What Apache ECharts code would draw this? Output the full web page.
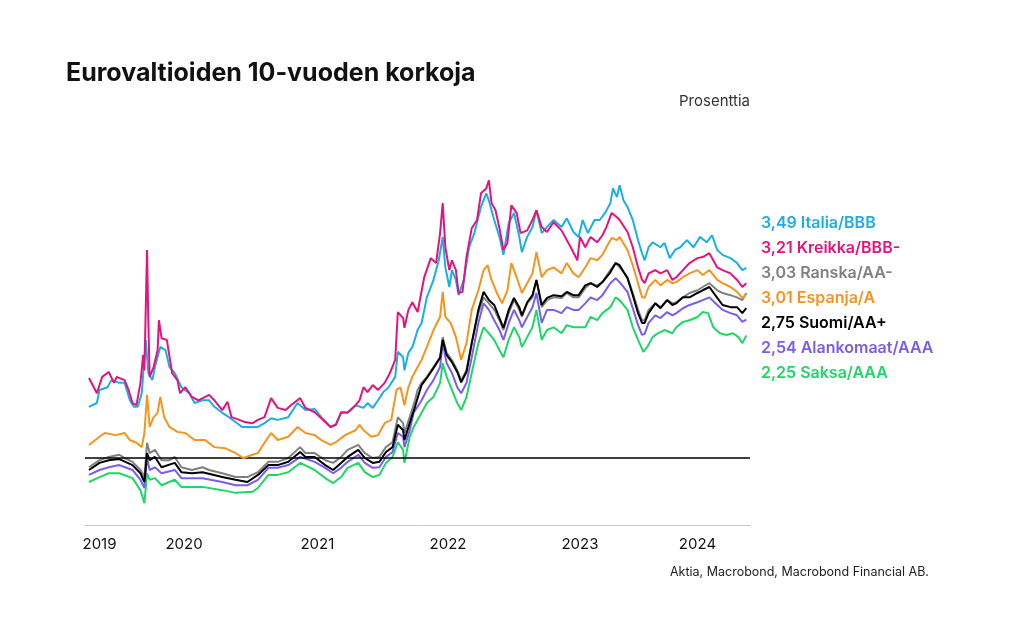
<!DOCTYPE html>
<html><head><meta charset="utf-8">
<script src="https://cdn.jsdelivr.net/npm/echarts@6/dist/echarts.min.js"></script>
<style>html,body{margin:0;padding:0;background:#fff}#c{width:1010px;height:623px}</style>
</head><body><div id="c"></div>
<script>
// Tick labels (years) and where they are centred (decimal years)
const yearLabels = ['2019', '2020', '2021', '2022', '2023', '2024'];
const yearLabelPositions = [2019.86, 2020.5, 2021.51, 2022.5, 2023.5, 2024.39];

// Series names (legend order)
const seriesNames = ['Italia/BBB', 'Kreikka/BBB-', 'Ranska/AA-', 'Espanja/A', 'Suomi/AA+', 'Alankomaat/AAA', 'Saksa/AAA'];

// 10-year yields, % — [decimal year, value]
const italia = [[2019.78,0.94],[2019.84,1.01],[2019.86,1.25],[2019.92,1.30],[2019.95,1.43],[2020.01,1.38],[2020.05,1.38],[2020.09,1.06],[2020.12,0.94],[2020.15,0.94],[2020.18,1.19],[2020.21,2.17],[2020.23,1.56],[2020.26,1.43],[2020.28,1.67],[2020.32,2.04],[2020.36,1.98],[2020.39,1.67],[2020.43,1.56],[2020.48,1.30],[2020.54,1.19],[2020.58,1.01],[2020.64,1.06],[2020.69,1.06],[2020.73,0.94],[2020.79,0.83],[2020.84,0.75],[2020.89,0.66],[2020.94,0.57],[2021.02,0.57],[2021.06,0.57],[2021.11,0.64],[2021.16,0.73],[2021.21,0.70],[2021.29,0.75],[2021.36,1.01],[2021.42,0.88],[2021.49,0.90],[2021.54,0.75],[2021.61,0.57],[2021.65,0.61],[2021.69,0.83],[2021.74,0.84],[2021.80,0.97],[2021.86,0.92],[2021.89,1.01],[2021.93,0.92],[2021.97,1.06],[2022.01,1.21],[2022.05,1.30],[2022.10,1.49],[2022.12,1.95],[2022.16,1.85],[2022.17,1.61],[2022.20,1.93],[2022.23,2.04],[2022.24,2.11],[2022.27,2.35],[2022.30,2.48],[2022.34,2.95],[2022.39,3.27],[2022.43,3.63],[2022.46,4.06],[2022.48,3.50],[2022.51,3.14],[2022.53,3.45],[2022.56,3.27],[2022.58,2.99],[2022.62,3.27],[2022.66,3.87],[2022.70,4.13],[2022.75,4.61],[2022.79,4.86],[2022.81,4.73],[2022.85,4.37],[2022.89,4.06],[2022.92,3.73],[2022.96,4.31],[2023.00,4.50],[2023.04,4.06],[2023.06,3.78],[2023.10,4.06],[2023.14,4.24],[2023.17,4.55],[2023.21,4.13],[2023.25,4.24],[2023.30,4.37],[2023.36,4.24],[2023.40,4.40],[2023.45,4.15],[2023.49,4.06],[2023.52,4.37],[2023.56,4.13],[2023.61,4.37],[2023.65,4.37],[2023.69,4.50],[2023.73,4.68],[2023.75,4.95],[2023.78,4.79],[2023.80,5.01],[2023.83,4.73],[2023.86,4.61],[2023.90,4.37],[2023.94,4.00],[2023.97,3.76],[2023.99,3.63],[2024.02,3.87],[2024.05,3.96],[2024.11,3.87],[2024.14,3.95],[2024.18,3.67],[2024.22,3.82],[2024.26,3.87],[2024.31,4.00],[2024.36,3.87],[2024.41,4.06],[2024.46,3.96],[2024.50,4.09],[2024.54,3.82],[2024.58,3.73],[2024.64,3.67],[2024.69,3.58],[2024.73,3.45],[2024.76,3.49]];

const kreikka = [[2019.78,1.47],[2019.84,1.19],[2019.88,1.49],[2019.93,1.58],[2019.97,1.38],[2019.99,1.49],[2020.05,1.43],[2020.08,1.25],[2020.11,1.01],[2020.14,0.97],[2020.17,1.38],[2020.19,1.89],[2020.20,1.61],[2020.22,3.82],[2020.23,2.48],[2020.24,1.49],[2020.27,1.67],[2020.30,1.98],[2020.31,2.53],[2020.33,2.20],[2020.37,2.17],[2020.41,1.56],[2020.45,1.43],[2020.47,1.19],[2020.51,1.30],[2020.56,1.12],[2020.61,1.06],[2020.69,1.16],[2020.73,1.06],[2020.79,0.88],[2020.83,1.03],[2020.86,0.75],[2020.92,0.70],[2020.96,0.66],[2021.02,0.64],[2021.06,0.70],[2021.11,0.75],[2021.16,1.10],[2021.21,0.92],[2021.27,0.88],[2021.31,0.97],[2021.38,1.10],[2021.42,0.92],[2021.49,0.84],[2021.54,0.73],[2021.61,0.57],[2021.65,0.61],[2021.69,0.84],[2021.74,0.83],[2021.80,0.97],[2021.83,1.06],[2021.86,1.30],[2021.89,1.21],[2021.93,1.34],[2021.97,1.25],[2022.02,1.38],[2022.06,1.56],[2022.10,1.80],[2022.12,2.68],[2022.16,2.57],[2022.17,2.39],[2022.20,2.72],[2022.23,2.86],[2022.27,2.68],[2022.32,3.32],[2022.37,3.67],[2022.41,3.58],[2022.44,4.13],[2022.46,4.68],[2022.48,3.87],[2022.51,3.45],[2022.53,3.63],[2022.56,3.45],[2022.58,3.03],[2022.61,3.05],[2022.64,3.69],[2022.68,4.22],[2022.72,4.37],[2022.75,4.86],[2022.79,4.95],[2022.81,5.10],[2022.83,4.68],[2022.86,4.55],[2022.89,4.22],[2022.92,3.82],[2022.95,3.95],[2022.98,4.64],[2023.02,4.50],[2023.05,4.13],[2023.10,4.18],[2023.14,4.37],[2023.17,4.55],[2023.21,4.24],[2023.25,4.15],[2023.30,4.33],[2023.36,4.18],[2023.43,3.87],[2023.48,3.63],[2023.50,4.06],[2023.54,3.87],[2023.58,4.06],[2023.63,3.96],[2023.67,4.09],[2023.70,4.24],[2023.74,4.50],[2023.78,4.42],[2023.80,4.37],[2023.86,4.15],[2023.90,3.87],[2023.94,3.50],[2023.97,3.27],[2023.99,3.21],[2024.02,3.39],[2024.07,3.45],[2024.11,3.39],[2024.16,3.45],[2024.20,3.27],[2024.23,3.32],[2024.28,3.45],[2024.33,3.58],[2024.39,3.67],[2024.43,3.69],[2024.48,3.76],[2024.54,3.50],[2024.58,3.45],[2024.64,3.39],[2024.69,3.27],[2024.73,3.14],[2024.76,3.21]];

const ranska = [[2019.78,-0.17],[2019.86,-0.04],[2019.93,0.02],[2020.01,0.06],[2020.05,0.00],[2020.11,-0.07],[2020.17,-0.22],[2020.20,-0.35],[2020.22,0.28],[2020.24,0.09],[2020.28,0.15],[2020.33,-0.04],[2020.39,-0.04],[2020.43,0.02],[2020.48,-0.17],[2020.56,-0.22],[2020.64,-0.17],[2020.69,-0.22],[2020.79,-0.28],[2020.89,-0.35],[2020.98,-0.35],[2021.06,-0.26],[2021.14,-0.07],[2021.21,-0.07],[2021.29,0.00],[2021.38,0.20],[2021.42,0.09],[2021.49,0.09],[2021.57,-0.04],[2021.63,-0.09],[2021.69,0.02],[2021.74,0.15],[2021.82,0.24],[2021.87,0.09],[2021.93,0.00],[2021.98,0.02],[2022.03,0.20],[2022.08,0.29],[2022.12,0.75],[2022.16,0.64],[2022.17,0.46],[2022.21,0.75],[2022.25,1.06],[2022.27,1.25],[2022.30,1.38],[2022.34,1.49],[2022.39,1.67],[2022.44,1.85],[2022.46,2.22],[2022.49,1.93],[2022.53,1.80],[2022.57,1.61],[2022.60,1.43],[2022.64,1.61],[2022.68,2.11],[2022.73,2.66],[2022.77,2.95],[2022.81,2.84],[2022.85,2.72],[2022.89,2.53],[2022.92,2.35],[2022.96,2.66],[2023.00,2.90],[2023.04,2.72],[2023.06,2.59],[2023.10,2.84],[2023.14,2.95],[2023.17,3.27],[2023.21,2.77],[2023.25,2.90],[2023.30,2.95],[2023.36,2.94],[2023.40,3.03],[2023.45,2.95],[2023.49,2.95],[2023.54,3.12],[2023.58,3.21],[2023.63,3.17],[2023.67,3.23],[2023.73,3.45],[2023.77,3.58],[2023.80,3.50],[2023.86,3.32],[2023.90,3.03],[2023.94,2.72],[2023.97,2.53],[2023.99,2.53],[2024.02,2.72],[2024.07,2.84],[2024.11,2.77],[2024.16,2.90],[2024.20,2.84],[2024.23,2.86],[2024.28,2.95],[2024.33,3.03],[2024.39,3.08],[2024.43,3.14],[2024.48,3.21],[2024.54,3.08],[2024.58,3.03],[2024.64,2.99],[2024.69,2.95],[2024.73,2.90],[2024.76,3.03]];

const espanja = [[2019.78,0.24],[2019.86,0.39],[2019.90,0.46],[2019.98,0.42],[2020.05,0.46],[2020.09,0.33],[2020.14,0.28],[2020.18,0.20],[2020.20,0.46],[2020.22,1.16],[2020.24,0.57],[2020.27,0.75],[2020.30,0.83],[2020.32,1.12],[2020.35,0.75],[2020.39,0.57],[2020.45,0.48],[2020.51,0.46],[2020.58,0.33],[2020.66,0.33],[2020.73,0.20],[2020.81,0.18],[2020.89,0.09],[2020.95,0.00],[2021.02,0.06],[2021.06,0.09],[2021.11,0.28],[2021.16,0.46],[2021.21,0.33],[2021.29,0.39],[2021.36,0.57],[2021.42,0.46],[2021.49,0.42],[2021.54,0.33],[2021.61,0.24],[2021.65,0.29],[2021.72,0.42],[2021.80,0.51],[2021.83,0.61],[2021.86,0.51],[2021.92,0.39],[2021.97,0.42],[2022.02,0.64],[2022.07,0.70],[2022.11,1.25],[2022.14,1.30],[2022.17,0.97],[2022.20,1.30],[2022.23,1.49],[2022.27,1.67],[2022.30,1.80],[2022.34,2.04],[2022.39,2.35],[2022.44,2.59],[2022.46,3.05],[2022.48,2.59],[2022.52,2.48],[2022.56,2.22],[2022.60,1.80],[2022.64,2.11],[2022.68,2.72],[2022.73,3.08],[2022.77,3.45],[2022.80,3.54],[2022.83,3.27],[2022.87,3.03],[2022.91,2.84],[2022.95,3.08],[2022.98,3.58],[2023.02,3.32],[2023.06,3.03],[2023.10,3.21],[2023.14,3.39],[2023.17,3.78],[2023.21,3.32],[2023.25,3.45],[2023.30,3.50],[2023.36,3.39],[2023.40,3.58],[2023.45,3.39],[2023.49,3.32],[2023.54,3.50],[2023.58,3.67],[2023.63,3.63],[2023.67,3.73],[2023.70,3.87],[2023.74,4.04],[2023.78,4.00],[2023.80,4.06],[2023.86,3.82],[2023.90,3.54],[2023.94,3.21],[2023.97,2.95],[2023.99,2.94],[2024.02,3.14],[2024.07,3.27],[2024.11,3.17],[2024.16,3.27],[2024.20,3.21],[2024.23,3.23],[2024.28,3.32],[2024.33,3.39],[2024.39,3.45],[2024.43,3.36],[2024.48,3.45],[2024.54,3.27],[2024.58,3.21],[2024.64,3.14],[2024.69,3.05],[2024.73,2.94],[2024.76,3.01]];

const suomi = [[2019.78,-0.22],[2019.86,-0.09],[2019.93,-0.04],[2020.01,-0.02],[2020.11,-0.13],[2020.17,-0.28],[2020.20,-0.44],[2020.22,0.09],[2020.24,-0.04],[2020.28,0.02],[2020.33,-0.17],[2020.43,-0.09],[2020.48,-0.26],[2020.56,-0.28],[2020.64,-0.26],[2020.79,-0.35],[2020.89,-0.40],[2020.98,-0.44],[2021.06,-0.31],[2021.14,-0.13],[2021.21,-0.13],[2021.29,-0.07],[2021.38,0.11],[2021.42,0.02],[2021.49,0.02],[2021.57,-0.13],[2021.63,-0.22],[2021.69,-0.09],[2021.74,0.02],[2021.82,0.15],[2021.87,0.00],[2021.93,-0.09],[2021.98,-0.07],[2022.03,0.11],[2022.08,0.20],[2022.12,0.61],[2022.16,0.51],[2022.17,0.33],[2022.21,0.64],[2022.25,0.94],[2022.30,1.34],[2022.34,1.47],[2022.39,1.65],[2022.44,1.84],[2022.46,2.17],[2022.49,1.89],[2022.53,1.76],[2022.57,1.58],[2022.60,1.39],[2022.64,1.58],[2022.68,2.11],[2022.73,2.72],[2022.77,3.05],[2022.81,2.90],[2022.85,2.81],[2022.89,2.57],[2022.92,2.39],[2022.96,2.72],[2023.00,2.94],[2023.04,2.77],[2023.06,2.62],[2023.10,2.86],[2023.14,2.99],[2023.17,3.27],[2023.21,2.81],[2023.25,2.94],[2023.30,2.99],[2023.36,2.97],[2023.40,3.05],[2023.45,2.99],[2023.49,2.99],[2023.54,3.17],[2023.58,3.21],[2023.63,3.14],[2023.67,3.23],[2023.73,3.41],[2023.77,3.58],[2023.80,3.54],[2023.86,3.30],[2023.90,2.99],[2023.94,2.66],[2023.97,2.48],[2023.99,2.48],[2024.02,2.66],[2024.07,2.84],[2024.11,2.75],[2024.16,2.90],[2024.20,2.81],[2024.23,2.84],[2024.28,2.95],[2024.33,2.95],[2024.39,3.03],[2024.43,3.08],[2024.48,3.14],[2024.54,2.94],[2024.58,2.81],[2024.64,2.77],[2024.69,2.77],[2024.73,2.66],[2024.76,2.75]];

const alankomaat = [[2019.78,-0.31],[2019.86,-0.22],[2019.93,-0.17],[2020.01,-0.13],[2020.11,-0.22],[2020.17,-0.40],[2020.20,-0.55],[2020.22,0.00],[2020.24,-0.22],[2020.28,-0.17],[2020.33,-0.28],[2020.43,-0.22],[2020.48,-0.37],[2020.64,-0.37],[2020.79,-0.44],[2020.89,-0.50],[2020.98,-0.50],[2021.06,-0.40],[2021.14,-0.18],[2021.21,-0.18],[2021.29,-0.13],[2021.38,0.02],[2021.49,-0.07],[2021.57,-0.18],[2021.63,-0.28],[2021.69,-0.18],[2021.74,-0.07],[2021.82,0.06],[2021.87,-0.09],[2021.93,-0.18],[2021.98,-0.17],[2022.03,0.02],[2022.08,0.11],[2022.12,0.46],[2022.16,0.39],[2022.17,0.20],[2022.21,0.51],[2022.24,0.83],[2022.30,1.06],[2022.34,1.25],[2022.39,1.43],[2022.44,1.67],[2022.46,2.11],[2022.49,1.74],[2022.53,1.56],[2022.57,1.30],[2022.60,1.19],[2022.64,1.38],[2022.68,1.85],[2022.73,2.48],[2022.77,2.84],[2022.81,2.72],[2022.85,2.53],[2022.89,2.35],[2022.92,2.17],[2022.96,2.48],[2023.00,2.72],[2023.04,2.53],[2023.06,2.40],[2023.10,2.59],[2023.14,2.77],[2023.17,3.03],[2023.21,2.48],[2023.25,2.72],[2023.30,2.72],[2023.36,2.66],[2023.40,2.77],[2023.45,2.72],[2023.49,2.72],[2023.54,2.84],[2023.58,2.95],[2023.63,2.90],[2023.67,2.99],[2023.73,3.21],[2023.77,3.30],[2023.80,3.23],[2023.86,3.05],[2023.90,2.75],[2023.94,2.44],[2023.97,2.26],[2023.99,2.28],[2024.02,2.48],[2024.07,2.62],[2024.11,2.57],[2024.16,2.68],[2024.20,2.62],[2024.23,2.66],[2024.28,2.75],[2024.33,2.81],[2024.39,2.86],[2024.43,2.90],[2024.48,2.95],[2024.54,2.81],[2024.58,2.72],[2024.64,2.66],[2024.69,2.62],[2024.73,2.50],[2024.76,2.54]];

const saksa = [[2019.78,-0.44],[2019.86,-0.35],[2019.93,-0.28],[2020.01,-0.28],[2020.11,-0.37],[2020.17,-0.59],[2020.20,-0.83],[2020.22,-0.28],[2020.24,-0.40],[2020.28,-0.37],[2020.33,-0.50],[2020.43,-0.40],[2020.48,-0.53],[2020.64,-0.53],[2020.79,-0.59],[2020.89,-0.64],[2021.02,-0.62],[2021.06,-0.55],[2021.14,-0.31],[2021.21,-0.31],[2021.29,-0.26],[2021.38,-0.09],[2021.49,-0.22],[2021.57,-0.37],[2021.63,-0.46],[2021.69,-0.35],[2021.74,-0.18],[2021.82,-0.09],[2021.87,-0.26],[2021.93,-0.35],[2021.98,-0.31],[2022.03,-0.09],[2022.08,0.02],[2022.12,0.29],[2022.16,0.15],[2022.17,-0.09],[2022.21,0.39],[2022.24,0.57],[2022.30,0.83],[2022.34,1.01],[2022.39,1.12],[2022.44,1.38],[2022.46,1.74],[2022.49,1.49],[2022.53,1.25],[2022.57,1.01],[2022.60,0.88],[2022.64,1.12],[2022.68,1.56],[2022.73,2.11],[2022.77,2.40],[2022.81,2.29],[2022.85,2.17],[2022.89,1.98],[2022.92,1.85],[2022.96,2.17],[2023.00,2.40],[2023.04,2.22],[2023.06,2.04],[2023.10,2.22],[2023.14,2.40],[2023.17,2.72],[2023.21,2.17],[2023.25,2.35],[2023.30,2.40],[2023.36,2.29],[2023.40,2.44],[2023.45,2.40],[2023.49,2.40],[2023.54,2.40],[2023.58,2.59],[2023.63,2.53],[2023.67,2.66],[2023.73,2.77],[2023.77,2.95],[2023.80,2.90],[2023.86,2.72],[2023.90,2.40],[2023.94,2.17],[2023.98,1.95],[2024.01,2.04],[2024.05,2.22],[2024.09,2.29],[2024.14,2.35],[2024.20,2.29],[2024.23,2.40],[2024.28,2.50],[2024.33,2.53],[2024.39,2.59],[2024.43,2.68],[2024.47,2.66],[2024.51,2.40],[2024.56,2.29],[2024.61,2.26],[2024.66,2.29],[2024.70,2.22],[2024.73,2.11],[2024.76,2.25]];

const seriesData = [italia, kreikka, ranska, espanja, suomi, alankomaat, saksa];
const seriesColors = ['#1aaeea', '#e8127c', '#808080', '#f7941d', '#000000', '#7b5cf0', '#1ed767'];
const drawOrder = [6, 5, 2, 4, 3, 0, 1];

const FONT = 'Inter, "Noto Sans", sans-serif';
const chart = echarts.init(document.getElementById('c'), null, {renderer: 'canvas'});

const series = drawOrder.map((i, k) => ({
  name: seriesNames[i],
  type: 'line',
  data: seriesData[i],
  showSymbol: false,
  symbol: 'none',
  lineStyle: {color: seriesColors[i], width: 2},
  itemStyle: {color: seriesColors[i]},
  z: 2 + k,
  silent: true,
  animation: false
}));
series.push({
  type: 'line', data: [], silent: true, animation: false, z: 20,
  markLine: {
    silent: true, symbol: 'none', animation: false,
    label: {show: false},
    lineStyle: {color: '#000', width: 1.5, type: 'solid'},
    data: [{yAxis: 0}]
  }
});

const legendTexts = seriesNames.map((n, i) => {
  const last = seriesData[i][seriesData[i].length - 1][1];
  return {
    type: 'text', left: 761, top: 215 + i * 25,
    style: {text: last.toFixed(2).replace('.', ',') + ' ' + n, fill: seriesColors[i], font: '600 16px ' + FONT}
  };
});

chart.setOption({
  backgroundColor: '#fff',
  animation: false,
  title: [
    {text: 'Eurovaltioiden 10-vuoden korkoja', left: 66, top: 61, padding: 0,
     textStyle: {fontFamily: FONT, fontWeight: 'bold', fontSize: 25, color: '#111'}},
    {text: 'Prosenttia', right: 260, top: 94, padding: 0,
     textStyle: {fontFamily: FONT, fontWeight: 'normal', fontSize: 15, color: '#333'}},
    {text: 'Aktia, Macrobond, Macrobond Financial AB.', left: 670, top: 566, padding: 0,
     textStyle: {fontFamily: FONT, fontWeight: 'normal', fontSize: 12.5, color: '#222'}}
  ],
  grid: {left: 85, width: 665, top: 171, height: 354, containLabel: false},
  xAxis: {
    type: 'value', min: 2019.75, max: 2024.788,
    axisLine: {show: true, onZero: false, lineStyle: {color: '#c8c8c8', width: 1}},
    axisTick: {show: false},
    splitLine: {show: false},
    axisLabel: {
      customValues: yearLabelPositions,
      fontFamily: FONT, fontSize: 15, color: '#111', margin: 12,
      formatter: v => {
        let best = 0, d = 1e9;
        yearLabelPositions.forEach((p, j) => { if (Math.abs(p - v) < d) { d = Math.abs(p - v); best = j; } });
        return yearLabels[best];
      }
    }
  },
  yAxis: {type: 'value', min: -1.23, max: 5.27, show: false, splitLine: {show: false}},
  graphic: legendTexts,
  series: series
});
</script>
</body></html>
